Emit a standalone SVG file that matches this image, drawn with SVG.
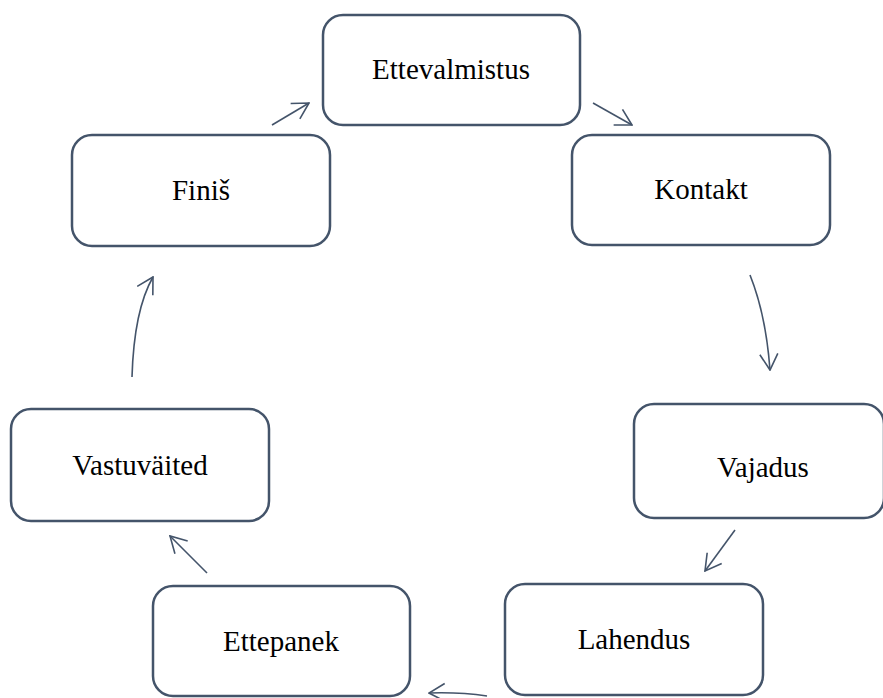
<svg xmlns="http://www.w3.org/2000/svg" width="883" height="698" viewBox="0 0 883 698">
<defs>
<style>
.box{fill:#ffffff;stroke:#44546a;stroke-width:2.5}
.lbl{font-family:"Liberation Serif","Times New Roman",serif;font-size:29px;fill:#000000;text-anchor:middle}
.arr{fill:none;stroke:#44546a;stroke-width:1.6;marker-end:url(#ah)}
</style>
<marker id="ah" viewBox="0 0 18 20" refX="17" refY="10" markerWidth="18" markerHeight="20" markerUnits="userSpaceOnUse" orient="auto">
<path d="M1,1 L17,10 L1,19" fill="none" stroke="#44546a" stroke-width="1.6"/>
</marker>
</defs>
<g id="connectors">
<path class="arr" d="M272,125 L309,103"/>
<path class="arr" d="M593,103 L632,125"/>
<path class="arr" d="M750,275 Q766,315 770,370"/>
<path class="arr" d="M735,530 L705,571"/>
<path class="arr" d="M487,696 Q460,692 429,693"/>
<path class="arr" d="M207,573 L170,536"/>
<path class="arr" d="M132,377 Q134,310 153,277"/>
</g>
<g id="ettevalmistus">
<rect class="box" x="323" y="15" width="257" height="110" rx="20"/>
<text class="lbl" x="451" y="79">Ettevalmistus</text>
</g>
<g id="kontakt">
<rect class="box" x="572" y="135" width="258" height="110" rx="20"/>
<text class="lbl" x="701" y="199">Kontakt</text>
</g>
<g id="vajadus">
<rect class="box" x="634" y="404" width="250" height="114" rx="20"/>
<text class="lbl" x="763" y="477">Vajadus</text>
</g>
<g id="lahendus">
<rect class="box" x="505" y="584" width="258" height="111" rx="20"/>
<text class="lbl" x="634" y="649">Lahendus</text>
</g>
<g id="ettepanek">
<rect class="box" x="153" y="586" width="257" height="110" rx="20"/>
<text class="lbl" x="281" y="651">Ettepanek</text>
</g>
<g id="vastuvaited">
<rect class="box" x="11" y="409" width="258" height="112" rx="20"/>
<text class="lbl" x="140" y="475">Vastuväited</text>
</g>
<g id="finis">
<rect class="box" x="72" y="135" width="258" height="111" rx="20"/>
<text class="lbl" x="201" y="200">Finiš</text>
</g>
</svg>
